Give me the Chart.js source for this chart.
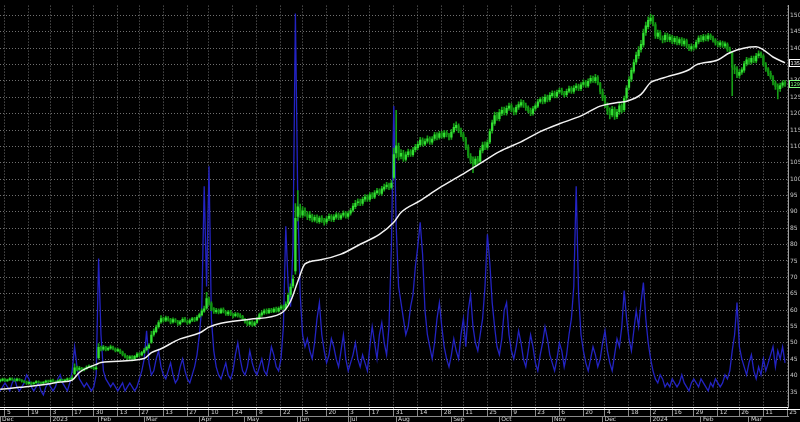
<!DOCTYPE html>
<html>
<head>
<meta charset="utf-8">
<script src="https://cdn.jsdelivr.net/npm/chart.js@4.4.0/dist/chart.umd.min.js"></script>
<style>
  html, body { margin: 0; padding: 0; background: #000; }
</style>
</head>
<body>
<canvas id="chart" width="800" height="422"></canvas>
<script>
// daily candles, one per trading day starting 1 Dec 2022
const opens = [
  38.3,38.5,38.9,38.4,38.7,39.0,38.8,38.5,38.9,38.6,
  38.3,38.1,37.6,37.9,37.5,37.8,38.2,37.9,37.7,38.0,
  38.3,38.1,38.6,38.2,38.0,38.4,38.7,38.3,38.7,39.1,
  38.9,40.6,42.5,41.9,42.2,41.7,42.1,42.7,42.8,42.4,
  42.1,45.5,48.5,48.1,48.6,48.0,48.4,48.7,48.1,47.5,
  47.8,47.2,46.3,45.9,45.3,45.8,45.1,45.8,46.7,46.3,
  47.1,47.9,48.5,50.2,52.6,53.4,54.9,56.4,57.5,56.9,
  57.5,57.1,56.4,57.0,56.5,55.8,56.5,57.3,56.6,56.2,
  56.9,57.4,57.0,57.9,58.5,59.7,60.6,63.2,62.0,60.4,
  59.5,60.0,59.2,60.2,59.4,58.8,59.5,58.6,58.3,58.9,
  58.5,58.1,57.1,56.5,55.7,56.4,55.4,56.2,57.3,58.5,
  59.1,59.9,59.2,60.1,59.5,60.4,59.7,60.6,61.1,60.5,
  62.0,64.8,67.4,72.0,88.6,91.0,89.0,90.5,89.4,88.2,
  88.8,87.5,88.4,87.0,88.2,87.4,86.9,88.0,88.7,87.6,
  88.4,89.2,88.1,89.0,89.7,88.6,89.6,90.5,91.6,92.8,
  93.2,92.6,93.9,94.6,93.8,95.3,94.5,95.9,96.5,95.6,
  96.9,97.7,98.3,97.5,100.5,108.0,110.0,107.0,108.0,106.0,
  107.5,108.4,107.5,109.0,109.6,110.5,112.0,110.7,111.6,112.4,
  111.3,112.4,113.6,112.7,114.0,113.0,114.2,113.5,112.8,114.5,
  115.7,116.3,114.9,113.6,112.2,109.8,107.0,105.9,104.5,106.2,
  105.5,108.8,110.6,109.7,111.4,114.8,117.0,119.6,118.5,120.1,
  121.2,120.3,121.7,122.5,121.0,120.5,122.0,122.6,123.5,122.5,
  121.9,121.0,120.1,121.6,122.3,123.7,124.4,123.7,125.1,124.3,
  125.5,126.3,125.3,126.6,127.2,126.2,125.8,126.9,127.7,126.8,
  127.9,128.5,127.6,128.9,129.6,128.5,130.0,130.9,130.1,131.1,
  129.2,126.6,125.0,122.4,120.9,119.6,121.4,119.1,120.6,122.5,
  121.2,124.8,128.0,130.5,133.0,135.8,137.7,139.6,141.0,144.8,
  146.6,148.3,149.4,147.2,143.6,144.8,143.0,142.6,144.0,142.6,
  143.5,142.0,143.1,141.6,142.7,141.3,142.3,140.6,139.8,140.6,
  140.3,141.9,143.2,142.5,143.6,142.8,143.9,143.1,142.5,141.7,
  141.0,141.7,140.7,141.2,139.7,138.6,134.0,133.6,131.7,132.7,
  133.3,135.3,136.5,135.7,137.0,136.1,137.7,138.4,137.6,135.0,
  133.7,132.3,131.0,129.4,128.4,127.6,128.7,129.5
];
const highs = [
  38.9,39.2,39.1,38.9,39.4,39.3,39.0,39.2,39.1,38.8,
  38.5,38.3,38.1,38.1,38.0,38.5,38.4,38.1,38.2,38.6,
  38.6,38.8,38.9,38.4,38.7,39.0,38.9,38.9,39.3,39.3,
  40.0,43.6,42.9,42.8,42.5,42.4,43.0,43.3,43.1,42.7,
  43.0,49.8,49.0,49.2,48.9,48.8,49.3,49.0,48.5,48.4,
  48.1,47.5,46.7,46.2,46.1,46.1,46.2,47.0,47.0,47.4,
  48.3,49.0,49.8,53.5,54.3,55.4,56.8,58.3,57.9,58.2,
  58.0,57.5,57.6,57.4,56.9,56.9,57.7,57.8,57.0,57.3,
  57.8,57.8,58.3,59.1,60.4,61.2,65.4,64.0,62.5,60.8,
  60.5,60.4,60.6,60.7,59.8,59.9,59.9,59.0,59.3,59.2,
  58.9,58.4,57.5,56.9,56.8,56.8,56.6,57.9,59.1,59.8,
  60.3,60.4,60.5,60.5,60.8,60.9,61.0,61.6,61.5,62.5,
  65.2,68.0,70.6,92.5,96.5,92.4,91.6,91.2,90.1,90.2,
  89.3,89.0,89.1,88.7,88.9,88.0,88.6,89.4,89.2,89.2,
  89.8,89.7,89.5,90.3,90.1,90.2,91.1,92.6,93.5,94.0,
  93.9,94.5,95.3,95.2,95.9,95.9,96.5,97.2,97.0,97.8,
  98.5,99.0,98.8,99.6,109.5,121.0,111.0,109.0,108.8,108.3,
  109.2,109.0,109.7,110.6,111.5,112.8,112.6,112.3,113.2,112.9,
  113.0,114.3,114.2,114.6,114.6,114.9,114.8,114.0,115.2,117.0,
  117.5,116.9,115.6,114.3,112.8,110.5,107.8,106.8,106.9,107.0,
  109.5,111.3,111.4,112.0,115.3,118.0,120.5,120.4,121.3,122.0,
  122.0,122.4,123.2,123.1,121.8,122.6,123.6,124.3,124.1,123.2,
  122.4,121.7,122.2,123.1,124.4,125.0,125.1,125.8,125.7,126.4,
  127.0,126.9,127.2,127.8,127.8,126.8,127.5,128.4,128.3,128.6,
  129.2,129.0,129.5,130.3,130.2,130.6,131.6,131.5,132.0,131.6,
  129.6,127.5,125.6,123.3,121.8,122.2,122.0,121.3,123.2,123.0,
  125.4,128.6,131.3,134.0,136.5,138.8,140.5,142.4,145.8,148.0,
  149.6,150.4,150.0,147.8,145.5,145.4,143.8,144.7,144.6,144.2,
  144.0,143.6,143.6,143.2,143.2,142.9,142.8,141.2,141.3,141.1,
  142.5,143.8,143.9,144.2,144.1,144.5,144.4,143.7,142.9,142.2,
  142.3,142.2,141.9,141.6,140.3,139.0,135.0,134.4,133.4,134.1,
  136.0,137.2,137.0,137.6,137.6,138.4,139.2,138.9,138.0,135.6,
  134.1,133.0,131.6,130.0,129.1,129.3,130.1,130.2
];
const lows = [
  38.0,38.3,38.2,38.2,38.5,38.5,38.2,38.3,38.4,38.0,
  37.8,37.3,37.4,37.1,37.3,37.6,37.7,37.3,37.5,37.8,
  37.8,37.9,38.0,37.6,37.8,38.2,38.0,38.1,38.4,38.5,
  38.7,40.3,41.4,41.6,41.3,41.4,41.9,42.4,42.2,41.7,
  41.8,45.0,47.5,47.7,47.5,47.6,48.0,47.8,47.2,47.2,
  46.7,46.0,45.4,44.7,44.9,44.5,44.8,45.5,45.8,46.0,
  46.8,47.5,48.2,49.8,52.0,53.0,54.5,55.9,56.3,56.5,
  56.6,55.8,56.0,56.2,55.3,55.4,56.2,56.3,55.6,55.8,
  56.5,56.5,56.7,57.6,58.2,59.3,60.2,61.5,59.8,59.0,
  59.0,58.8,58.9,59.1,58.4,58.3,58.3,57.6,57.9,57.8,
  57.6,56.9,56.0,55.2,55.3,55.0,55.1,55.9,57.0,58.1,
  58.7,58.8,58.9,59.2,59.2,59.4,59.4,60.1,60.1,60.1,
  61.5,64.0,66.8,71.0,87.2,88.3,88.2,88.7,87.6,87.4,
  86.9,86.9,86.6,86.5,86.8,85.9,86.3,87.3,87.1,87.0,
  87.8,87.6,87.6,88.4,88.1,88.0,89.0,90.0,91.0,92.0,
  91.9,92.0,93.2,93.2,93.2,94.0,94.0,95.3,95.1,95.0,
  96.3,97.0,96.8,96.9,100.0,106.5,105.8,106.2,105.4,105.5,
  106.8,106.9,106.9,108.3,109.0,110.0,110.1,110.2,111.0,110.6,
  110.6,111.8,112.0,112.2,112.5,112.5,112.9,112.0,112.1,114.0,
  115.0,114.2,113.0,111.6,109.0,106.5,104.8,102.0,103.8,104.4,
  105.0,108.0,109.0,109.1,110.8,114.0,116.4,117.9,117.8,119.4,
  119.6,119.5,121.0,120.5,119.6,119.8,121.3,122.0,121.9,121.0,
  120.2,119.4,119.5,121.0,121.8,123.2,123.0,123.1,123.6,123.7,
  124.9,124.8,124.8,126.0,125.7,125.0,125.2,126.3,126.2,126.2,
  127.2,127.0,127.0,128.2,128.0,128.0,129.3,129.5,129.4,128.8,
  126.0,124.0,121.8,119.8,118.4,119.0,118.2,118.5,119.8,120.2,
  120.6,124.1,127.3,129.8,132.4,135.0,136.9,138.8,140.3,143.9,
  145.9,147.5,146.8,143.0,142.9,142.5,141.6,141.8,142.0,141.9,
  141.4,141.3,141.0,141.0,140.7,140.6,140.1,139.2,139.1,139.4,
  139.8,141.3,142.0,141.9,142.2,142.1,142.6,141.8,140.9,140.4,
  140.3,140.2,140.0,139.0,138.3,125.5,132.2,131.0,130.9,132.0,
  132.6,134.6,135.0,135.1,135.6,135.5,137.0,137.1,134.5,132.9,
  131.6,130.5,128.8,127.4,124.5,126.8,128.0,128.3
];
const closes = [
  38.6,38.9,38.4,38.7,39.1,38.8,38.5,38.9,38.6,38.3,
  38.0,37.6,37.9,37.4,37.8,38.2,37.9,37.6,38.0,38.3,
  38.1,38.5,38.2,37.9,38.4,38.7,38.3,38.6,39.0,38.8,
  39.2,42.4,41.8,42.3,41.6,42.0,42.6,42.9,42.5,42.1,
  42.4,48.6,48.0,48.7,47.9,48.3,48.8,48.2,47.6,47.9,
  47.1,46.4,45.8,45.2,45.7,45.0,45.9,46.6,46.2,47.0,
  47.8,48.6,49.3,52.4,53.6,54.8,56.2,57.4,56.8,57.6,
  57.0,56.3,57.1,56.6,55.9,56.4,57.2,56.7,56.1,56.8,
  57.3,56.9,57.8,58.6,59.8,60.4,63.5,62.1,60.2,59.6,
  59.9,59.3,60.1,59.5,58.9,59.4,58.7,58.2,58.8,58.4,
  58.0,57.2,56.4,55.8,56.3,55.5,56.1,57.4,58.6,59.2,
  59.8,59.1,60.0,59.6,60.3,59.8,60.5,61.0,60.6,61.8,
  64.5,67.0,69.5,88.0,91.5,89.2,90.3,89.6,88.4,89.0,
  87.6,88.3,87.2,88.1,87.5,86.8,87.9,88.6,87.8,88.5,
  89.1,88.2,88.9,89.6,88.7,89.5,90.4,91.8,92.6,93.1,
  92.7,93.8,94.5,93.9,95.2,94.6,95.8,96.4,95.7,97.0,
  97.6,98.2,97.4,98.8,107.5,110.2,106.8,107.9,106.2,107.4,
  108.3,107.6,108.9,109.8,110.6,111.9,110.8,111.5,112.3,111.4,
  112.2,113.5,112.8,113.9,113.2,114.1,113.6,112.9,114.4,115.8,
  116.4,114.8,113.7,112.4,109.6,107.2,105.8,104.6,106.1,105.3,
  108.7,110.4,109.8,111.2,114.5,117.2,119.4,118.6,120.3,121.0,
  120.4,121.6,122.3,121.1,120.6,121.9,122.8,123.4,122.6,121.8,
  120.9,120.2,121.5,122.4,123.6,124.3,123.8,125.0,124.4,125.6,
  126.2,125.4,126.5,127.1,126.3,125.7,126.8,127.6,126.9,127.8,
  128.4,127.7,128.8,129.5,128.6,129.9,130.8,130.2,131.0,129.4,
  126.8,124.9,122.6,120.8,119.7,121.3,119.2,120.5,122.4,121.1,
  124.6,127.8,130.4,133.2,135.6,137.9,139.4,141.2,144.6,146.8,
  148.5,149.2,147.6,143.8,144.6,143.2,142.5,143.9,142.8,143.4,
  142.1,143.0,141.7,142.6,141.4,142.2,140.8,139.9,140.5,140.2,
  141.8,143.1,142.6,143.5,142.9,143.8,143.2,142.4,141.6,141.1,
  141.6,140.8,141.3,139.6,138.9,134.2,133.5,131.8,132.6,133.4,
  135.2,136.4,135.8,136.9,136.2,137.6,138.3,137.8,135.1,133.6,
  132.4,131.2,129.6,128.3,127.5,128.6,129.4,129.1
];
// volume indicator (own hidden scale, 0-100)
const volume = [
  4,5,6,5,4,6,7,5,4,5,
  6,8,7,5,4,5,6,4,3,5,
  6,5,4,5,7,8,6,5,4,6,
  9,15,10,7,6,5,6,5,4,5,
  8,37,18,9,7,6,5,6,5,4,
  5,6,4,5,6,5,4,5,7,9,
  12,19,11,8,9,12,14,10,8,7,
  9,11,8,6,7,10,12,9,7,6,
  8,10,13,18,25,55,30,60,22,14,
  10,8,7,9,11,8,7,9,13,16,
  12,9,8,10,14,11,9,8,10,12,
  9,8,11,15,13,10,9,12,20,45,
  30,25,40,98,51,28,18,15,17,14,
  12,16,22,26,18,14,11,13,17,15,
  12,10,14,18,12,9,11,13,16,12,
  10,13,11,9,15,20,16,12,18,21,
  16,13,20,40,75,45,30,26,22,18,
  20,25,28,35,40,46,38,24,18,15,
  12,16,22,26,20,15,12,10,13,17,
  14,12,18,22,15,24,28,20,16,14,
  18,22,30,43,36,26,20,15,13,17,
  24,26,18,14,12,15,19,16,12,10,
  14,18,15,11,9,13,16,20,17,13,
  11,9,12,16,14,10,13,18,22,30,
  55,28,18,14,11,9,12,15,13,10,
  12,16,19,14,11,9,13,17,15,20,
  29,22,17,14,19,24,20,26,31,22,
  16,12,9,7,6,8,7,5,6,5,
  7,6,5,6,8,6,5,4,6,7,
  6,5,7,6,5,4,6,5,7,6,
  5,6,8,7,9,14,18,26,15,12,
  10,8,11,13,9,7,10,8,12,9,
  11,13,15,10,14,12,15,11
];
// white average line, read at these trading-day indices
const avgIdx = [0,8,17,25,30,33,40,42,60,63,67,75,83,87,92,104,117,121,124,127,133,142,150,158,164,167,175,183,192,200,208,217,225,233,242,250,258,261,267,271,274,278,287,290,299,304,315,318,322,327];
const avgVal = [35.8,36.4,37.1,38.0,38.6,41.0,43.4,44.0,45.2,47.0,48.2,51.2,53.0,54.8,56.0,57.2,59.0,62.7,68.7,74.1,75.3,77.1,80.1,83.1,86.8,89.8,93.4,97.3,101.2,104.8,108.4,111.4,114.5,116.9,119.3,122.3,123.5,123.8,125.9,129.5,130.4,131.3,133.4,134.9,136.4,138.6,140.4,139.5,137.3,135.5];

// axis ticks
const priceTicks = [35,40,45,50,55,60,65,70,75,80,85,90,95,100,105,110,115,120,125,130,135,140,145,150];
const dayTickIdx = [2,12,21,30,39,49,58,68,78,87,97,107,117,126,136,145,154,164,174,184,193,203,213,223,233,243,252,262,271,280,289,299,308,318,328];
const dayTickText = ['5','19','3','17','30','13','27','13','27','10','24','8','22','5','20','3','17','31','14','28','11','25','9','23','6','20','4','18','2','16','29','12','26','11','25'];
const monthTickIdx = [0,21,41,60,83,102,124,145,165,188,208,230,251,271,292,312];
const monthTickText = ['Dec','2023','Feb','Mar','Apr','May','Jun','Jul','Aug','Sep','Oct','Nov','Dec','2024','Feb','Mar'];

const UP = '#34e034';
const DOWN = '#129612';
const WICK = '#169c16';
const GRID = 'rgba(140,140,140,0.8)';
const FONT = { family: 'DejaVu Sans', size: 6 };

const days = closes.map((c, i) => i);
const bodyColors = days.map(i => closes[i] >= opens[i] ? UP : DOWN);

const frame = {
  id: 'frame',
  beforeDraw(chart) {
    const ctx = chart.ctx;
    ctx.save();
    ctx.fillStyle = '#000';
    ctx.fillRect(0, 0, chart.width, chart.height);
    ctx.restore();
  },
  afterDraw(chart) {
    const { ctx, chartArea, scales } = chart;
    ctx.save();
    // second white rule under the plot
    ctx.strokeStyle = '#ffffff';
    ctx.lineWidth = 1;
    ctx.beginPath();
    ctx.moveTo(0, chartArea.bottom + 2.5);
    ctx.lineTo(chart.width, chartArea.bottom + 2.5);
    ctx.stroke();
    // last value tags on the price axis
    const tag = (v, col) => {
      const y = Math.round(scales.y.getPixelForValue(v));
      ctx.fillStyle = '#000';
      ctx.fillRect(789, y - 4, 11, 8);
      ctx.strokeStyle = col;
      ctx.strokeRect(789.5, y - 3.5, 12, 7);
      ctx.fillStyle = col;
      ctx.font = '5px "DejaVu Sans"';
      ctx.textBaseline = 'middle';
      ctx.fillText(v.toFixed(2), 790.5, y + 0.5);
    };
    tag(avgVal[avgVal.length - 1], '#ffffff');
    tag(closes[closes.length - 1], '#7dff7d');
    ctx.restore();
  }
};

new Chart(document.getElementById('chart'), {
  type: 'bar',
  data: {
    datasets: [
      {
        type: 'line',
        label: 'average',
        data: avgIdx.map((d, k) => ({ x: d, y: avgVal[k] })),
        borderColor: '#f2f2f2',
        borderWidth: 1.5,
        pointRadius: 0,
        cubicInterpolationMode: 'monotone',
        yAxisID: 'y',
        order: 0
      },
      {
        label: 'body',
        data: days.map(i => ({ x: i, y: [opens[i], closes[i]] })),
        backgroundColor: bodyColors,
        barThickness: 1.6,
        grouped: false,
        yAxisID: 'y',
        order: 1
      },
      {
        label: 'wick',
        data: days.map(i => ({ x: i, y: [lows[i], highs[i]] })),
        backgroundColor: WICK,
        barThickness: 1,
        grouped: false,
        yAxisID: 'y',
        order: 2
      },
      {
        type: 'line',
        label: 'volume',
        data: days.map(i => ({ x: i, y: volume[i] })),
        borderColor: '#2323c2',
        borderWidth: 1.3,
        pointRadius: 0,
        yAxisID: 'yv',
        order: 3
      }
    ]
  },
  options: {
    responsive: false,
    animation: false,
    events: [],
    layout: { padding: 0 },
    plugins: { legend: { display: false }, tooltip: { enabled: false } },
    scales: {
      x: {
        type: 'linear',
        position: 'bottom',
        weight: 0,
        min: -0.08,
        max: 328.25,
        offset: false,
        afterBuildTicks: s => { s.ticks = dayTickIdx.map(v => ({ value: v })); },
        afterFit: s => { s.height = 9; },
        ticks: {
          callback: (v, i) => ' ' + dayTickText[i],
          autoSkip: false,
          maxRotation: 0,
          align: 'start',
          padding: -7,
          color: '#d4d4d4',
          font: FONT
        },
        grid: {
          color: GRID,
          offset: false,
          drawTicks: true,
          tickLength: 9,
          tickColor: '#8a8a8a',
          tickBorderDash: []
        },
        border: { color: '#ffffff', width: 1, dash: [1, 2] }
      },
      x2: {
        type: 'linear',
        position: 'bottom',
        weight: 1,
        min: -0.08,
        max: 328.25,
        offset: false,
        afterBuildTicks: s => { s.ticks = monthTickIdx.map(v => ({ value: v })); },
        afterFit: s => { s.height = 6; },
        ticks: {
          callback: (v, i) => ' ' + monthTickText[i],
          autoSkip: false,
          maxRotation: 0,
          align: 'start',
          padding: -6,
          color: '#d4d4d4',
          font: FONT
        },
        grid: {
          drawOnChartArea: false,
          offset: false,
          drawTicks: true,
          tickLength: 6,
          tickColor: '#8a8a8a'
        },
        border: { color: '#8a8a8a', width: 1 }
      },
      y: {
        type: 'linear',
        position: 'right',
        min: 30.4,
        max: 153.0,
        afterBuildTicks: s => { s.ticks = priceTicks.map(v => ({ value: v })); },
        afterFit: s => { s.width = 12; },
        ticks: { color: '#c8c8c8', font: FONT, padding: 2 },
        grid: { color: GRID, drawTicks: false },
        border: { color: '#a0a0a0', width: 1, dash: [1, 2] }
      },
      yv: {
        type: 'linear',
        display: false,
        min: 0,
        max: 100
      }
    }
  },
  plugins: [frame]
});
</script>
</body>
</html>
